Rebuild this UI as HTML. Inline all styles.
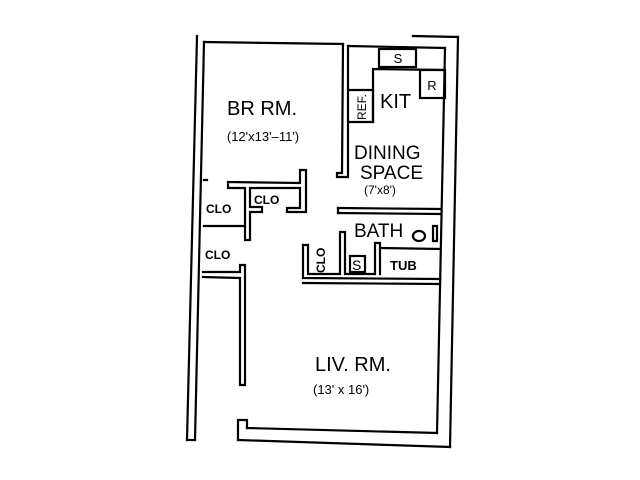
<!DOCTYPE html>
<html><head><meta charset="utf-8"><style>
html,body{margin:0;padding:0;background:#fff;}
svg{display:block;}
text{font-family:"Liberation Sans",Arial,sans-serif;fill:#000;}
</style></head><body>
<svg width="640" height="480" viewBox="0 0 640 480" xmlns="http://www.w3.org/2000/svg">
<g fill="none" stroke="#000" stroke-width="2.2" stroke-linecap="square">
<!-- left wall -->
<line x1="197" y1="36" x2="187" y2="440"/>
<line x1="204" y1="42" x2="195" y2="440"/>
<line x1="187" y1="440" x2="195" y2="440"/>
<!-- top wall -->
<line x1="204" y1="42" x2="343" y2="44"/>
<line x1="348" y1="46" x2="445" y2="48"/>
<line x1="413" y1="36" x2="458" y2="37"/>
<!-- right walls -->
<line x1="458" y1="37" x2="450" y2="447"/>
<line x1="445" y1="48" x2="437" y2="433"/>
<!-- bottom walls -->
<line x1="238" y1="440" x2="450" y2="447"/>
<line x1="247" y1="428" x2="437" y2="433"/>
<polyline points="238,440 238,420 247,420 247,428"/>
<!-- partition BR/kitchen -->
<polyline points="343,44 342,173 337,173 337,177 348,177 348,46"/>
<!-- kitchen fixtures -->
<rect x="379" y="49" width="37" height="18"/>
<polyline points="373,122 373,69 445,70"/>
<rect x="420" y="70" width="25" height="28"/>
<polyline points="350,90 373,90 373,122 350,122"/>
<!-- closets upper -->
<polyline points="228,182 300,183 300,170 306,170 306,212 287,212 287,208 300,208 300,188 250,188 250,207 262,207 262,212 250,212 250,240 245,240 245,188 228,188 228,182"/>
<line x1="204" y1="226" x2="245" y2="226"/>
<line x1="204" y1="180" x2="207" y2="180"/>
<!-- closet lower -->
<polyline points="203,272 240,272 240,265 245,265 245,385 240,385 240,278 203,277"/>
<!-- bath -->
<line x1="338" y1="208" x2="440" y2="209"/>
<line x1="338" y1="213" x2="440" y2="214"/>
<polyline points="338,208 338,213"/>
<polyline points="303,245 303,278 440,279"/>
<polyline points="308,245 308,274 340,274 340,232 345,232 345,274 375,274 375,243 380,243 380,274"/>
<line x1="303" y1="283" x2="440" y2="284"/>
<line x1="303" y1="245" x2="308" y2="245"/>
<line x1="380" y1="248" x2="440" y2="249"/>
<rect x="350" y="256" width="15" height="16"/>
<ellipse cx="419" cy="236" rx="6" ry="5"/>
<polyline points="433,226 437,226 437,241 433,241 433,226"/>
</g>
<text x="262" y="115" font-size="20" text-anchor="middle">BR RM.</text>
<text x="263" y="141" font-size="13" text-anchor="middle">(12'x13'–11')</text>
<text x="398" y="63" font-size="13" text-anchor="middle">S</text>
<text x="432" y="90" font-size="13" text-anchor="middle">R</text>
<text x="380" y="108" font-size="20">KIT</text>
<text x="366" y="120" font-size="12" transform="rotate(-90 366 120)">REF.</text>
<text x="354" y="159" font-size="19">DINING</text>
<text x="360" y="179" font-size="19">SPACE</text>
<text x="364" y="194" font-size="12">(7'x8')</text>
<text x="354" y="237" font-size="19">BATH</text>
<text x="352" y="270" font-size="14">S</text>
<text x="390" y="270" font-size="13" font-weight="bold">TUB</text>
<text x="325" y="273" font-size="12" font-weight="bold" transform="rotate(-90 325 273)">CLO</text>
<text x="206" y="213" font-size="12" font-weight="bold">CLO</text>
<text x="254" y="204" font-size="12" font-weight="bold">CLO</text>
<text x="205" y="259" font-size="12" font-weight="bold">CLO</text>
<text x="315" y="371" font-size="20">LIV. RM.</text>
<text x="313" y="394" font-size="13">(13' x 16')</text>
</svg>
</body></html>
